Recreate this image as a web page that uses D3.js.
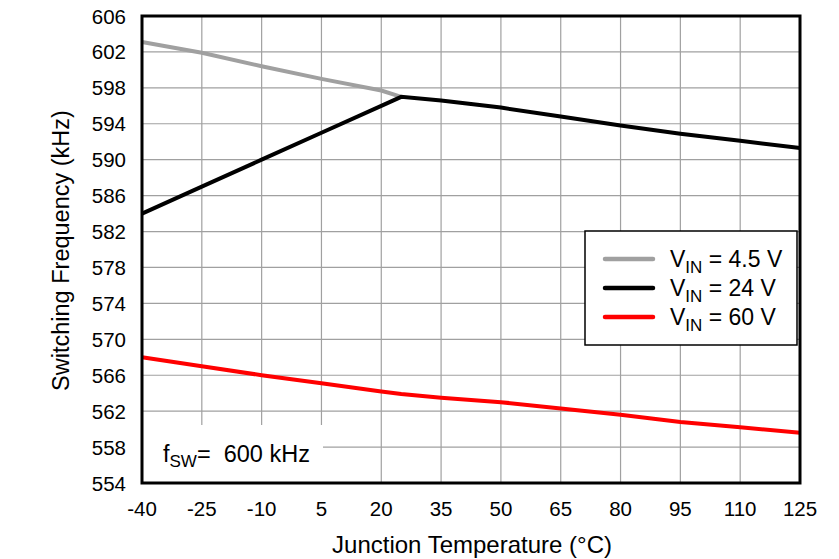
<!DOCTYPE html>
<html><head><meta charset="utf-8">
<script src="https://cdn.jsdelivr.net/npm/d3@7"></script>
<style>body{margin:0;background:#fff}svg{display:block}text{font-family:"Liberation Sans",Arial,sans-serif;fill:#000}</style>
</head><body>
<script>
const xTicks = [-40,-25,-10,5,20,35,50,65,80,95,110,125];
const yTicks = [554,558,562,566,570,574,578,582,586,590,594,598,602,606];
const temp45 = [-40,-25,-10,5,20,25];
const vin45 = [603.1,601.9,600.4,599.0,597.7,597.0];
const temp24 = [-40,-25,-10,5,20,25,35,50,65,80,95,110,125];
const vin24 = [584.0,587.0,590.0,593.0,596.0,597.0,596.6,595.8,594.8,593.8,592.9,592.1,591.3];
const temp60 = [-40,-25,-10,5,20,25,35,50,65,80,95,110,125];
const vin60 = [568.0,567.0,566.0,565.1,564.2,563.9,563.5,563.0,562.3,561.6,560.8,560.2,559.6];
const seriesNames = ["4.5 V","24 V","60 V"];
const seriesColors = ["#a0a0a0","#000000","#ff0000"];

const W=839,H=559, L=142,R=800,T=16,B=483;
const svg=d3.select("body").append("svg").attr("width",W).attr("height",H);
const x=d3.scaleLinear().domain([-40,125]).range([L,R]);
const y=d3.scaleLinear().domain([554,606]).range([B,T]);

// grid
svg.append("g").selectAll("line").data(xTicks).join("line")
 .attr("x1",d=>x(d)).attr("x2",d=>x(d)).attr("y1",T).attr("y2",B)
 .attr("stroke","#a0a0a0").attr("stroke-width",1.2);
svg.append("g").selectAll("line").data(yTicks).join("line")
 .attr("x1",L).attr("x2",R).attr("y1",d=>y(d)).attr("y2",d=>y(d))
 .attr("stroke","#a0a0a0").attr("stroke-width",1.2);

// lines
const series=[[temp45,vin45],[temp24,vin24],[temp60,vin60]];
const line=d3.line().x(d=>x(d[0])).y(d=>y(d[1]));
series.forEach((s,i)=>{
  const pts=s[0].map((t,j)=>[t,s[1][j]]);
  svg.append("path").attr("d",line(pts)).attr("fill","none")
   .attr("stroke",seriesColors[i]).attr("stroke-width",4).attr("stroke-linejoin","miter");
});

// annotation box
svg.append("rect").attr("x",L).attr("y",425).attr("width",323-L).attr("height",B-425).attr("fill","#fff");
const ann=svg.append("text").attr("x",163).attr("y",462).attr("font-size",23.5).attr("xml:space","preserve");
ann.append("tspan").text("f");
ann.append("tspan").attr("font-size",17).attr("dy",5).text("SW");
ann.append("tspan").attr("dy",-5).text("=  600 kHz");

// legend
svg.append("rect").attr("x",585).attr("y",231).attr("width",212).attr("height",114)
 .attr("fill","#fff").attr("stroke","#000").attr("stroke-width",1.5);
seriesNames.forEach((n,i)=>{
  const yy=259+i*29;
  svg.append("line").attr("x1",605).attr("x2",653).attr("y1",yy).attr("y2",yy)
   .attr("stroke",seriesColors[i]).attr("stroke-width",4.5).attr("stroke-linecap","round");
  const t=svg.append("text").attr("x",670).attr("y",yy+8).attr("font-size",23);
  t.append("tspan").text("V");
  t.append("tspan").attr("font-size",17).attr("dy",6).text("IN");
  t.append("tspan").attr("dy",-6).text(" = "+n);
});

// frame
svg.append("rect").attr("x",L).attr("y",T).attr("width",R-L).attr("height",B-T)
 .attr("fill","none").attr("stroke","#000").attr("stroke-width",3);

// ticks labels
svg.append("g").selectAll("text").data(yTicks).join("text")
 .attr("x",126).attr("y",d=>y(d)+7.5).attr("text-anchor","end").attr("font-size",20.5).text(d=>d);
svg.append("g").selectAll("text").data(xTicks).join("text")
 .attr("x",d=>x(d)).attr("y",516).attr("text-anchor","middle").attr("font-size",20.5).text(d=>d);

// axis titles
svg.append("text").attr("x",472).attr("y",553).attr("text-anchor","middle").attr("font-size",24)
 .text("Junction Temperature (°C)");
svg.append("text").attr("transform","translate(69,"+((T+B)/2+1)+") rotate(-90)")
 .attr("text-anchor","middle").attr("font-size",23.5).text("Switching Frequency (kHz)");
</script>
</body></html>
